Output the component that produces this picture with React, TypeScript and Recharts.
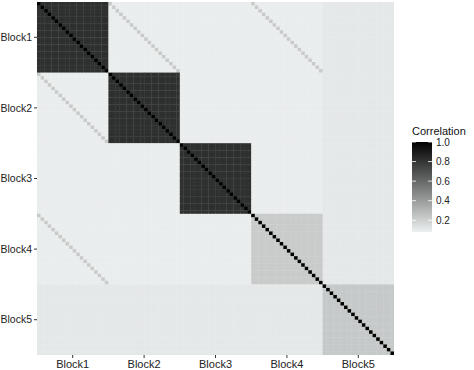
import React from "react";
import { ScatterChart, Scatter, XAxis, YAxis, ReferenceLine } from "recharts";

// ---- data ----
const blockNames = ["Block1", "Block2", "Block3", "Block4", "Block5"];
const variablesPerBlock = 20;
const selfCorr = 1.0;
const withinBlockCorr = [0.82, 0.82, 0.82, 0.22, 0.23];
const betweenBlockCorr = [
  [0, 0.09, 0.09, 0.09, 0.11],
  [0.09, 0, 0.09, 0.09, 0.11],
  [0.09, 0.09, 0, 0.09, 0.11],
  [0.09, 0.09, 0.09, 0, 0.11],
  [0.11, 0.11, 0.11, 0.11, 0],
];
// pairs of blocks whose matching variables are correlated (diagonal bands)
const pairedBlocks = [
  [0, 1],
  [0, 3],
];
const pairedCorr = [0.22, 0.22];
const legendTicks = [0.2, 0.4, 0.6, 0.8, 1.0];
const corrMin = 0.08;
const corrMax = 1.0;

// ---- layout constants ----
const W = 474;
const H = 370;
const PLOT_L = 37;
const PLOT_T = 2;
const PLOT_R = 394;
const PLOT_B = 355;
const nVars = blockNames.length * variablesPerBlock;
const CW = (PLOT_R - PLOT_L) / nVars;
const CH = (PLOT_B - PLOT_T) / nVars;

const LOW = [237, 240, 240];
function colorFor(v: number) {
  const t = Math.max(0, Math.min(1, (v - corrMin) / (corrMax - corrMin)));
  const c = LOW.map((x) => Math.round(x * (1 - t)));
  return `rgb(${c[0]},${c[1]},${c[2]})`;
}

function corrAt(i: number, j: number) {
  if (i === j) return selfCorr;
  const bi = Math.floor(i / variablesPerBlock);
  const bj = Math.floor(j / variablesPerBlock);
  const ki = i % variablesPerBlock;
  const kj = j % variablesPerBlock;
  if (bi === bj) return withinBlockCorr[bi];
  if (ki === kj) {
    for (let p = 0; p < pairedBlocks.length; p++) {
      const [a, b] = pairedBlocks[p];
      if ((bi === a && bj === b) || (bi === b && bj === a)) return pairedCorr[p];
    }
  }
  return betweenBlockCorr[bi][bj];
}

const cells: { x: number; y: number; value: number; fill: string }[] = [];
for (let i = 0; i < nVars; i++) {
  for (let j = 0; j < nVars; j++) {
    const v = corrAt(i, j);
    cells.push({ x: j + 1, y: i + 1, value: v, fill: colorFor(v) });
  }
}

const blockTicks = blockNames.map((_, b) => b * variablesPerBlock + variablesPerBlock / 2 + 0.5);
const boundaries = blockNames.slice(1).map((_, b) => (b + 1) * variablesPerBlock + 0.5);
const tickLabel = (v: number) => blockNames[Math.floor((v - 0.5) / variablesPerBlock)];

const TileShape = (props: any) => {
  const { cx, cy, payload } = props;
  if (cx == null || cy == null) return null;
  return (
    <rect
      x={cx - CW / 2}
      y={cy - CH / 2}
      width={CW + 0.35}
      height={CH + 0.35}
      fill={payload.fill}
    />
  );
};

const FONT = "'Liberation Sans', Arial, Helvetica, sans-serif";

const LEG_X = 412;
const LEG_W = 20;
const LEG_TOP = 142;
const LEG_BOT = 232;
const legY = (v: number) => LEG_BOT - ((v - corrMin) / (corrMax - corrMin)) * (LEG_BOT - LEG_TOP);

export default function App() {
  return (
    <div style={{ position: "absolute", left: 0, top: 0, width: W, height: H, background: "#fff", fontFamily: FONT }}>
      <ScatterChart
        width={W}
        height={H}
        margin={{ top: PLOT_T, right: W - PLOT_R, bottom: 0, left: 0 }}
      >
        <XAxis
          dataKey="x"
          type="number"
          domain={[0.5, nVars + 0.5]}
          ticks={blockTicks}
          tickFormatter={tickLabel}
          allowDataOverflow
          axisLine={false}
          tickLine={{ stroke: "#333333" }}
          tickSize={3}
          tickMargin={2}
          height={H - PLOT_B}
          tick={{ fontSize: 11, fill: "#222222", fontFamily: FONT }}
          interval={0}
        />
        <YAxis
          dataKey="y"
          type="number"
          reversed
          domain={[0.5, nVars + 0.5]}
          ticks={blockTicks}
          tickFormatter={tickLabel}
          allowDataOverflow
          axisLine={false}
          tickLine={{ stroke: "#333333" }}
          tickSize={3}
          tickMargin={2}
          width={PLOT_L}
          tick={{ fontSize: 10.5, fill: "#222222", fontFamily: FONT }}
          interval={0}
        />
        <Scatter data={cells} shape={TileShape} isAnimationActive={false} />
        {boundaries.map((b) => (
          <ReferenceLine key={`vx${b}`} x={b} stroke="#ffffff" strokeOpacity={0.8} strokeWidth={1} />
        ))}
        {boundaries.map((b) => (
          <ReferenceLine key={`hy${b}`} y={b} stroke="#ffffff" strokeOpacity={0.8} strokeWidth={1} />
        ))}
      </ScatterChart>
      <svg width={W} height={H} style={{ position: "absolute", left: 0, top: 0, pointerEvents: "none" }}>
        <defs>
          <linearGradient id="corrGrad" x1="0" y1="1" x2="0" y2="0">
            <stop offset="0%" stopColor={colorFor(corrMin)} />
            <stop offset="100%" stopColor={colorFor(corrMax)} />
          </linearGradient>
        </defs>
        <text x={LEG_X} y={135} fontSize={11} fill="#111" fontFamily={FONT}>
          Correlation
        </text>
        <rect x={LEG_X} y={LEG_TOP} width={LEG_W} height={LEG_BOT - LEG_TOP} fill="url(#corrGrad)" />
        {legendTicks.map((t) => (
          <g key={t}>
            <line x1={LEG_X} x2={LEG_X + 4} y1={legY(t)} y2={legY(t)} stroke="#fff" strokeWidth={0.8} />
            <line x1={LEG_X + LEG_W - 4} x2={LEG_X + LEG_W} y1={legY(t)} y2={legY(t)} stroke="#fff" strokeWidth={0.8} />
            <text x={LEG_X + LEG_W + 4} y={legY(t)} dy="0.35em" fontSize={10} fill="#222" fontFamily={FONT}>
              {t.toFixed(1)}
            </text>
          </g>
        ))}
      </svg>
    </div>
  );
}
